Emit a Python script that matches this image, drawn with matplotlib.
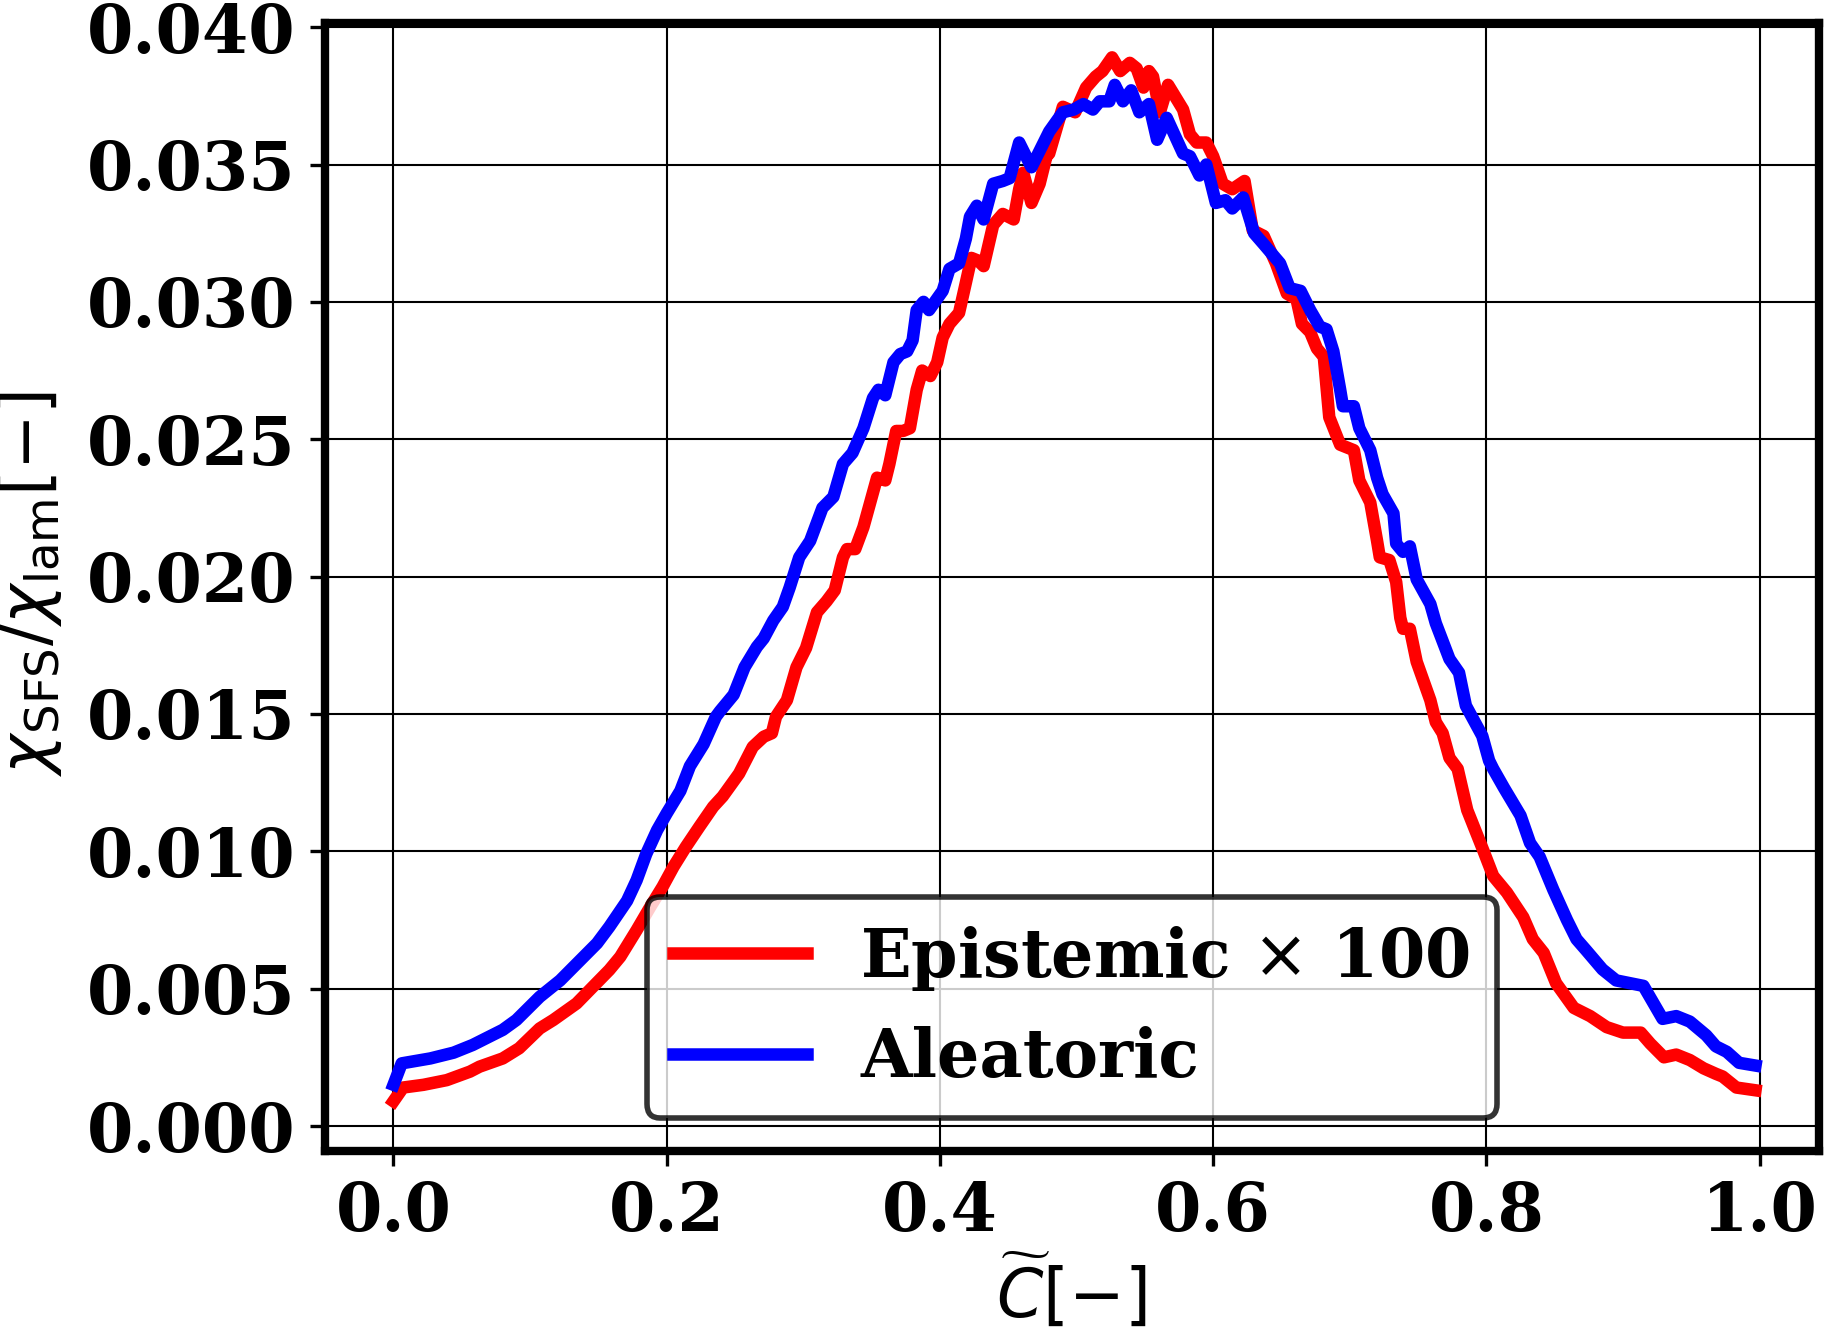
import matplotlib
matplotlib.use("Agg")
import matplotlib.pyplot as plt

# ---------------- data ----------------
x_alea = [0.0, 0.006, 0.027, 0.044, 0.058, 0.080, 0.090, 0.107, 0.122, 0.136,
          0.149, 0.158, 0.171, 0.178, 0.185, 0.193, 0.200, 0.210, 0.217, 0.227,
          0.236, 0.239, 0.249, 0.257, 0.266, 0.271, 0.278, 0.285, 0.290, 0.297,
          0.305, 0.314, 0.322, 0.329, 0.336, 0.344, 0.351, 0.355, 0.360, 0.366,
          0.371, 0.376, 0.380, 0.383, 0.388, 0.392, 0.402, 0.407, 0.414, 0.419,
          0.422, 0.427, 0.432, 0.439, 0.446, 0.451, 0.458, 0.467, 0.480, 0.490,
          0.498, 0.505, 0.512, 0.517, 0.524, 0.528, 0.534, 0.540, 0.546, 0.553,
          0.559, 0.566, 0.578, 0.583, 0.590, 0.595, 0.602, 0.609, 0.614, 0.622,
          0.630, 0.637, 0.649, 0.656, 0.664, 0.671, 0.678, 0.683, 0.688, 0.693,
          0.695, 0.703, 0.707, 0.715, 0.720, 0.724, 0.732, 0.734, 0.739, 0.744,
          0.749, 0.759, 0.763, 0.773, 0.780, 0.785, 0.797, 0.802, 0.805, 0.813,
          0.825, 0.832, 0.839, 0.849, 0.859, 0.866, 0.873, 0.885, 0.895, 0.905,
          0.915, 0.922, 0.929, 0.939, 0.949, 0.961, 0.968, 0.976, 0.985, 0.997]
y_alea = [0.0015, 0.00228, 0.00246, 0.00267, 0.00295, 0.0035, 0.00386, 0.0047, 0.0053, 0.0060,
          0.00665, 0.00725, 0.0082, 0.00895, 0.0099, 0.01077, 0.01138, 0.0122, 0.0131, 0.0139,
          0.0149, 0.0151, 0.0157, 0.0167, 0.01744, 0.01775, 0.0184, 0.0189, 0.0196, 0.0207,
          0.0213, 0.0225, 0.0229, 0.0241, 0.0245, 0.0254, 0.0265, 0.0268, 0.0266, 0.0278,
          0.0281, 0.0282, 0.0286, 0.0297, 0.0300, 0.0297, 0.0304, 0.0312, 0.0314, 0.0323,
          0.0331, 0.0335, 0.0330, 0.0343, 0.0344, 0.0345, 0.0358, 0.0349, 0.0362, 0.0369,
          0.0370, 0.0372, 0.0370, 0.0373, 0.0373, 0.0379, 0.0373, 0.0377, 0.0369, 0.0372,
          0.0359, 0.0367, 0.0354, 0.0353, 0.0346, 0.0350, 0.0336, 0.0337, 0.0334, 0.0338,
          0.0325, 0.0321, 0.0314, 0.0305, 0.0304, 0.0297, 0.0291, 0.0290, 0.0282, 0.0268,
          0.0262, 0.0262, 0.0254, 0.0246, 0.0236, 0.0230, 0.0223, 0.0212, 0.0209, 0.0211,
          0.0199, 0.0190, 0.0183, 0.0170, 0.0165, 0.0153, 0.0142, 0.0133, 0.0130, 0.0123,
          0.0113, 0.0103, 0.0098, 0.0086, 0.0075, 0.0068, 0.0064, 0.0057, 0.0053, 0.0052,
          0.0051, 0.0045, 0.0039, 0.0040, 0.0038, 0.0033, 0.0029, 0.0027, 0.0023, 0.0022]

x_epi = [0.0, 0.007, 0.022, 0.039, 0.056, 0.063, 0.080, 0.092, 0.107, 0.117,
         0.134, 0.146, 0.158, 0.166, 0.178, 0.188, 0.197, 0.205, 0.214, 0.224,
         0.234, 0.241, 0.253, 0.263, 0.271, 0.277, 0.280, 0.288, 0.295, 0.302,
         0.310, 0.317, 0.323, 0.329, 0.332, 0.338, 0.344, 0.349, 0.354, 0.360,
         0.363, 0.368, 0.373, 0.378, 0.383, 0.387, 0.393, 0.398, 0.402, 0.407,
         0.414, 0.419, 0.423, 0.428, 0.432, 0.439, 0.446, 0.454, 0.458, 0.461,
         0.467, 0.473, 0.478, 0.480, 0.490, 0.499, 0.507, 0.514, 0.519, 0.526,
         0.532, 0.539, 0.544, 0.549, 0.553, 0.556, 0.561, 0.567, 0.578, 0.583,
         0.588, 0.595, 0.600, 0.607, 0.614, 0.623, 0.629, 0.637, 0.646, 0.654,
         0.661, 0.665, 0.671, 0.676, 0.681, 0.685, 0.693, 0.703, 0.707, 0.715,
         0.720, 0.722, 0.729, 0.734, 0.737, 0.739, 0.744, 0.749, 0.759, 0.763,
         0.768, 0.773, 0.779, 0.786, 0.798, 0.805, 0.815, 0.827, 0.834, 0.842,
         0.851, 0.864, 0.876, 0.888, 0.900, 0.913, 0.920, 0.930, 0.939, 0.949,
         0.959, 0.968, 0.973, 0.983, 0.997]
y_epi = [0.0009, 0.0014, 0.0015, 0.00167, 0.00198, 0.00216, 0.00246, 0.00283, 0.00355, 0.00386,
         0.00446, 0.00507, 0.00568, 0.00616, 0.00713, 0.00798, 0.00871, 0.00944, 0.01016, 0.0109,
         0.01162, 0.0120, 0.01283, 0.0138, 0.01417, 0.0143, 0.0149, 0.0155, 0.0167, 0.0174,
         0.0187, 0.0191, 0.0195, 0.0207, 0.0210, 0.0210, 0.0218, 0.0227, 0.0236, 0.0235,
         0.0241, 0.0253, 0.0253, 0.0254, 0.0268, 0.0275, 0.0273, 0.0278, 0.0287, 0.0292,
         0.0296, 0.0307, 0.0316, 0.0315, 0.0313, 0.0328, 0.0332, 0.0330, 0.0341, 0.0347,
         0.0336, 0.0343, 0.0353, 0.0354, 0.0371, 0.0369, 0.0378, 0.0382, 0.0384, 0.0389,
         0.0384, 0.0387, 0.0385, 0.0378, 0.0384, 0.0382, 0.0369, 0.0379, 0.0370, 0.0361,
         0.0358, 0.0358, 0.0353, 0.0343, 0.0341, 0.0344, 0.0326, 0.0324, 0.0314, 0.0303,
         0.0301, 0.0292, 0.0289, 0.0283, 0.0280, 0.0258, 0.0248, 0.0246, 0.0235, 0.0227,
         0.0213, 0.0207, 0.0206, 0.0198, 0.0185, 0.0181, 0.0181, 0.0169, 0.0155, 0.0147,
         0.0143, 0.0134, 0.0130, 0.0115, 0.0100, 0.0091, 0.0085, 0.0076, 0.0068, 0.0063,
         0.0052, 0.0043, 0.0040, 0.0036, 0.0034, 0.0034, 0.0030, 0.0025, 0.0026, 0.0024,
         0.0021, 0.0019, 0.0018, 0.0014, 0.0013]

x_ticks = [0.0, 0.2, 0.4, 0.6, 0.8, 1.0]
y_ticks = [0.000, 0.005, 0.010, 0.015, 0.020, 0.025, 0.030, 0.035, 0.040]
label_epi = r"Epistemic $\times$ 100"
label_alea = "Aleatoric"

# ---------------- figure ----------------
W, H = 1825, 1336
fig = plt.figure(figsize=(W / 100, H / 100), dpi=100)
ax = fig.add_axes([324.5 / W, 1 - 1151 / H, (1819 - 324.5) / W, (1151 - 23.3) / H])

lw = 9
ax.plot(x_epi, y_epi, color="red", lw=lw, label=label_epi, zorder=3)
ax.plot(x_alea, y_alea, color="blue", lw=lw, label=label_alea, zorder=3)

ax.set_xlim(-0.0505, 1.0435)
ax.set_ylim(-0.00091, 0.04014)
ax.set_xticks(x_ticks)
ax.set_yticks(y_ticks)
ax.set_xticklabels([f"{v:.1f}" for v in x_ticks])
ax.set_yticklabels([f"{v:.3f}" for v in y_ticks])

for lab in ax.get_xticklabels() + ax.get_yticklabels():
    lab.set_fontfamily("DejaVu Serif")
    lab.set_fontweight("bold")
    lab.set_fontsize(48)

ax.tick_params(axis="both", length=10.5, width=2.4, pad=10.5, direction="out")
for sp in ax.spines.values():
    sp.set_linewidth(6)

ax.grid(True, color="black", lw=1.5)
ax.set_axisbelow(True)

ax.set_xlabel(r"$\widetilde{C}[-]$", fontsize=48)
ax.set_ylabel(r"$\chi_{\rm SFS}/\chi_{\rm lam}[-]$", fontsize=48)
ax.xaxis.set_label_coords(0.5, -0.090)
ax.yaxis.set_label_coords(-0.174, 0.503)

leg = ax.legend(loc="lower center",
                prop=dict(family="DejaVu Serif", weight="bold", size=48),
                framealpha=0.8, edgecolor="black", fancybox=True)
leg.get_frame().set_linewidth(4)
for line in leg.get_lines():
    line.set_linewidth(lw)

fig.savefig("out.png", dpi=100)
